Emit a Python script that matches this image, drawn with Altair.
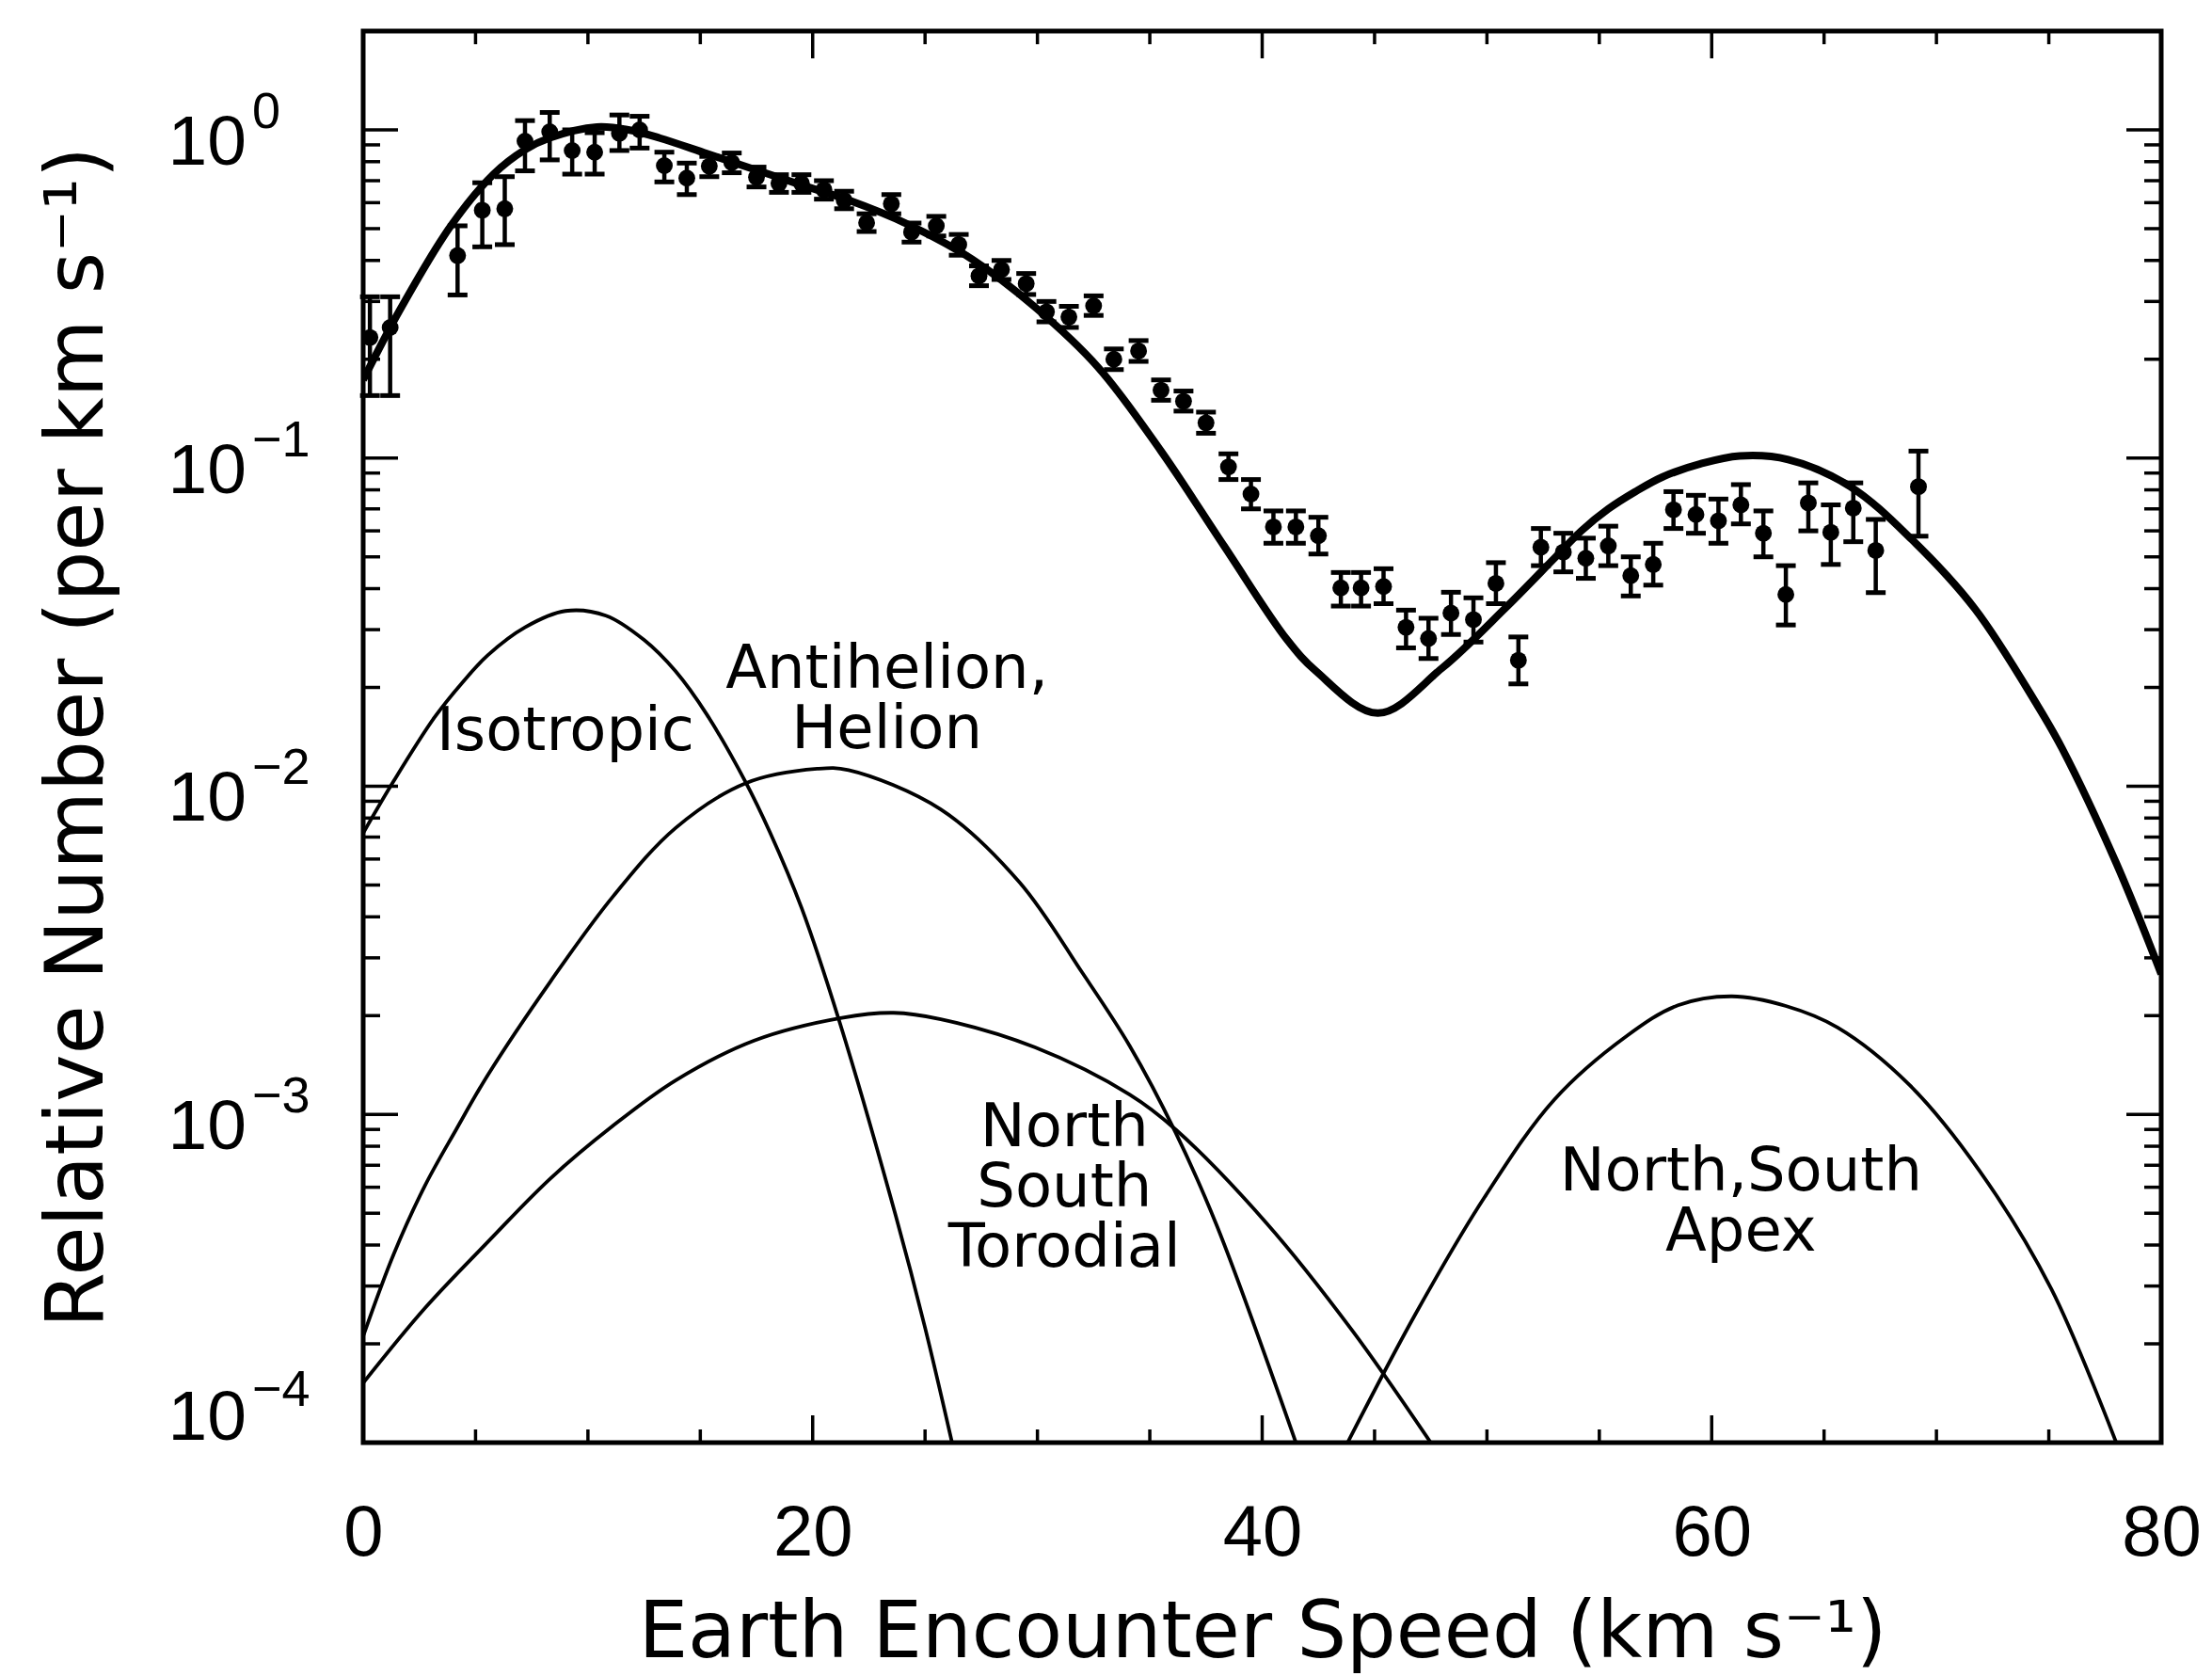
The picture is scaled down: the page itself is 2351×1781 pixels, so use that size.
import altair as alt
import pandas as pd

# ---------------- data ----------------
speed = [0.3, 1.2, 4.2, 5.3, 6.3, 7.2, 8.3, 9.3, 10.3, 11.4, 12.3, 13.4, 14.4, 15.4,
         16.4, 17.5, 18.5, 19.5, 20.5, 21.4, 22.4, 23.5, 24.4, 25.5, 26.5, 27.4, 28.4,
         29.5, 30.4, 31.4, 32.5, 33.4, 34.5, 35.5, 36.5, 37.5, 38.5, 39.5, 40.5, 41.5,
         42.5, 43.5, 44.4, 45.4, 46.4, 47.4, 48.4, 49.4, 50.4, 51.4, 52.4, 53.4, 54.4,
         55.4, 56.4, 57.4, 58.3, 59.3, 60.3, 61.3, 62.3, 63.3, 64.3, 65.3, 66.3, 67.3, 69.2]
rel = [0.233, 0.25, 0.414, 0.569, 0.575, 0.924, 0.987, 0.865, 0.855, 0.976, 1.0, 0.778,
       0.713, 0.775, 0.795, 0.717, 0.687, 0.687, 0.657, 0.61, 0.521, 0.595, 0.488, 0.51,
       0.447, 0.359, 0.375, 0.340, 0.279, 0.269, 0.291, 0.20, 0.212, 0.161, 0.149, 0.128,
       0.094, 0.0777, 0.0617, 0.0617, 0.058, 0.0402, 0.0402, 0.0406, 0.0305, 0.0282,
       0.0337, 0.0322, 0.0415, 0.0242, 0.0535, 0.0517, 0.0495, 0.054, 0.0438, 0.0474,
       0.0696, 0.0673, 0.0644, 0.072, 0.059, 0.0384, 0.073, 0.0594, 0.0704, 0.0523, 0.0818]
rel_lo = [0.155, 0.155, 0.314, 0.44, 0.447, 0.75, 0.81, 0.733, 0.733, 0.865, 0.88, 0.694,
          0.635, 0.72, 0.74, 0.67, 0.645, 0.645, 0.615, 0.575, 0.49, 0.555, 0.455, 0.475,
          0.415, 0.335, 0.35, 0.315, 0.26, 0.25, 0.272, 0.186, 0.197, 0.15, 0.139, 0.119,
          0.086, 0.07, 0.055, 0.055, 0.051, 0.0354, 0.0354, 0.036, 0.0264, 0.0245, 0.029,
          0.0275, 0.036, 0.0205, 0.047, 0.045, 0.043, 0.047, 0.038, 0.041, 0.061, 0.059,
          0.055, 0.063, 0.050, 0.031, 0.060, 0.0474, 0.0556, 0.0389, 0.0578]
rel_hi = [0.31, 0.31, 0.51, 0.69, 0.72, 1.067, 1.13, 1.0, 0.98, 1.11, 1.10, 0.855, 0.792,
          0.83, 0.85, 0.77, 0.73, 0.73, 0.70, 0.65, 0.555, 0.635, 0.52, 0.545, 0.48, 0.385,
          0.40, 0.365, 0.30, 0.29, 0.312, 0.215, 0.228, 0.173, 0.16, 0.138, 0.103, 0.086,
          0.069, 0.069, 0.066, 0.0448, 0.0448, 0.046, 0.0344, 0.0325, 0.039, 0.0375, 0.048,
          0.0285, 0.061, 0.059, 0.057, 0.062, 0.050, 0.055, 0.079, 0.077, 0.075, 0.083,
          0.069, 0.047, 0.084, 0.072, 0.084, 0.065, 0.105]

model_x = [0, 1.6, 3.9, 5.8, 7.2, 8.3, 10.4, 11.8, 13.2, 15.3, 17.4, 19.5, 21.5, 24.3,
           27.1, 29.9, 32.7, 35.5, 38.3, 41.1, 42.4, 45.15, 48.0, 50.8, 53.0, 54.2, 55.4,
           56.6, 57.8, 59.5, 61.25, 63.4, 66.15, 68.9, 71.7, 74.5, 75.6, 78.0, 80.0]
model_y = [0.173, 0.28, 0.51, 0.733, 0.87, 0.945, 1.02, 1.0, 0.944, 0.846, 0.758, 0.679,
           0.614, 0.513, 0.403, 0.288, 0.189, 0.105, 0.054, 0.028, 0.0224, 0.0167, 0.0229,
           0.0348, 0.0495, 0.060, 0.070, 0.079, 0.0875, 0.096, 0.1015, 0.099, 0.082,
           0.0565, 0.0348, 0.0176, 0.0130, 0.00583, 0.00268]

iso_x = [0, 1.35, 3.17, 4.4, 5.55, 7.2, 9.0, 10.8, 12.5, 13.9, 15.3, 17.0, 18.1, 19.5,
         21.2, 23.7, 25.0, 26.2]
iso_y = [0.0072, 0.01035, 0.0162, 0.02065, 0.0251, 0.0305, 0.0342, 0.0331, 0.0279,
         0.0224, 0.0165, 0.01035, 0.00724, 0.00427, 0.00191, 0.00049, 0.000224, 0.0001]

anti_x = [0, 1.35, 2.75, 4.14, 5.55, 8.33, 11.1, 13.9, 17.0, 20.2, 21.6, 25.7, 29.2,
          32.0, 34.1, 36.15, 38.0, 41.5]
anti_y = [2.11e-4, 3.74e-4, 6.07e-4, 9.0e-4, 1.32e-3, 2.54e-3, 4.6e-3, 7.46e-3, 0.0102,
          0.0113, 0.0112, 0.0085, 0.0051, 0.0027, 0.00162, 0.00088, 0.000455, 0.0001]

tor_x = [0, 2.75, 5.55, 8.33, 11.1, 13.9, 17.4, 21.3, 23.6, 25.7, 29.9, 34.1, 36.15,
         40.2, 44.0, 47.5]
tor_y = [1.52e-4, 2.57e-4, 4.09e-4, 6.38e-4, 9.22e-4, 1.27e-3, 1.68e-3, 1.97e-3, 2.04e-3,
         1.95e-3, 1.6e-3, 1.15e-3, 9.0e-4, 4.66e-4, 2.2e-4, 1.0e-4]

apex_x = [43.8, 46.8, 49.9, 53.0, 56.2, 58.5, 60.9, 63.3, 65.6, 68.8, 71.9, 75.1, 78.0]
apex_y = [1.0e-4, 2.45e-4, 5.6e-4, 1.11e-3, 1.73e-3, 2.15e-3, 2.29e-3, 2.14e-3, 1.84e-3,
          1.23e-3, 6.76e-4, 2.95e-4, 1.0e-4]

# annotation texts ("\n" separates lines) and their anchors in data units
label_text = ["Isotropic", "Antihelion,\nHelion", "North\nSouth\nTorodial",
              "North,South\nApex"]
label_x = [9.0, 23.3, 31.2, 61.3]
label_y = [0.0129, 0.0199, 8.0e-4, 5.87e-4]

x_label_values = [0, 20, 40, 60, 80]
x_minor = [5, 10, 15, 25, 30, 35, 45, 50, 55, 65, 70, 75]
y_major = [1.0, 0.1, 0.01, 0.001]
y_exp = ["0", "\u22121", "\u22122", "\u22123"]
y_bottom = [0.0001]
y_bottom_exp = ["\u22124"]
y_minor = [m * d for d in [1e-4, 1e-3, 1e-2, 1e-1] for m in range(2, 10)] + [2.0]

# ---------------- chart ----------------
W, H = 1911, 1500
xscale = alt.Scale(domain=[0, 80], nice=False, zero=False)
yscale = alt.Scale(type="log", domain=[1e-4, 2], nice=False)

xaxis = alt.Axis(values=x_label_values, ticks=False, tickSize=0, domain=False, grid=False,
                 labelFont="Liberation Sans", labelFontSize=76, labelColor="black",
                 labelPadding=59, labelFlush=False, labelOverlap=False,
                 title="Earth Encounter Speed (km s\u207b\u00b9)", titleFont="DejaVu Sans",
                 titleFontSize=83, titleFontWeight="normal", titleColor="black",
                 titleY=202, titleBaseline="middle")
yaxis = alt.Axis(labels=False, ticks=False, tickSize=0, domain=False, grid=False,
                 title="Relative Number (per km s\u207b\u00b9)", titleFont="DejaVu Sans",
                 titleFontSize=85, titleFontWeight="normal", titleColor="black",
                 titleX=-304, titleBaseline="middle")


def X(f):
    return alt.X(f, type="quantitative", scale=xscale, axis=xaxis)


def Y(f):
    return alt.Y(f, type="quantitative", scale=yscale, axis=yaxis)


pts = pd.DataFrame({"x": speed, "y": rel, "lo": rel_lo, "hi": rel_hi})


def curve(xs, ys):
    return pd.DataFrame({"x": xs, "y": ys})


model = alt.Chart(curve(model_x, model_y)).mark_line(
    interpolate="catmull-rom", strokeWidth=8, color="black", clip=True
).encode(x=X("x"), y=Y("y"))

thin = []
for cx, cy in [(iso_x, iso_y), (anti_x, anti_y), (tor_x, tor_y), (apex_x, apex_y)]:
    thin.append(alt.Chart(curve(cx, cy)).mark_line(
        interpolate="catmull-rom", strokeWidth=3.8, color="black", clip=True
    ).encode(x=X("x"), y=Y("y")))

err = alt.Chart(pts).mark_rule(strokeWidth=4.5, color="black").encode(
    x=X("x"), y=Y("lo"), y2="hi")
cap_lo = alt.Chart(pts).mark_tick(orient="horizontal", size=21, thickness=5,
                                  color="black", opacity=1).encode(x=X("x"), y=Y("lo"))
cap_hi = alt.Chart(pts).mark_tick(orient="horizontal", size=21, thickness=5,
                                  color="black", opacity=1).encode(x=X("x"), y=Y("hi"))
dots = alt.Chart(pts).mark_point(filled=True, shape="circle", size=320, color="black",
                                 opacity=1).encode(x=X("x"), y=Y("y"))

labels = alt.Chart(pd.DataFrame({"t": label_text, "x": label_x, "y": label_y})).mark_text(
    font="DejaVu Sans", fontSize=64, align="center", baseline="alphabetic", color="black",
    lineBreak="\n", lineHeight=64
).encode(x=X("x"), y=Y("y"), text="t:N")

# frame ticks (inward, on all four sides)
xmaj = pd.DataFrame({"v": x_label_values})
xmin = pd.DataFrame({"v": x_minor})
ymaj = pd.DataFrame({"v": y_major + y_bottom})
ymin = pd.DataFrame({"v": y_minor})

tick_layers = []
for df, ln in [(xmaj, 29), (xmin, 14)]:
    tick_layers.append(alt.Chart(df).mark_rule(strokeWidth=3.5, color="black").encode(
        x=X("v"), y=alt.value(H), y2=alt.value(H - ln)))
    tick_layers.append(alt.Chart(df).mark_rule(strokeWidth=3.5, color="black").encode(
        x=X("v"), y=alt.value(0), y2=alt.value(ln)))
for df, ln in [(ymaj, 37), (ymin, 18)]:
    tick_layers.append(alt.Chart(df).mark_rule(strokeWidth=3.5, color="black").encode(
        y=Y("v"), x=alt.value(0), x2=alt.value(ln)))
    tick_layers.append(alt.Chart(df).mark_rule(strokeWidth=3.5, color="black").encode(
        y=Y("v"), x=alt.value(W), x2=alt.value(W - ln)))

ylab_layers = []
for vals, exps, d_base, d_exp in [(y_major, y_exp, 14, -18),
                                  (y_bottom, y_bottom_exp, -26, -55)]:
    df = pd.DataFrame({"v": vals, "e": exps})
    ylab_layers.append(alt.Chart(df).mark_text(
        font="Liberation Sans", fontSize=75, align="right", baseline="middle",
        dy=d_base, color="black").encode(y=Y("v"), x=alt.value(-124), text=alt.value("10")))
    ylab_layers.append(alt.Chart(df).mark_text(
        font="Liberation Sans", fontSize=54, align="left", baseline="middle",
        dy=d_exp, color="black").encode(y=Y("v"), x=alt.value(-118), text="e:N"))

chart = alt.layer(
    model, *thin, err, cap_lo, cap_hi, dots, labels, *tick_layers, *ylab_layers
).properties(
    width=W, height=H,
    autosize=alt.AutoSizeParams(type="none"),
    padding={"left": 386, "top": 33, "right": 54, "bottom": 248},
    background="white",
).configure_view(stroke="black", strokeWidth=5)

chart.save("out.html", embed_options={"renderer": "svg", "actions": False})
